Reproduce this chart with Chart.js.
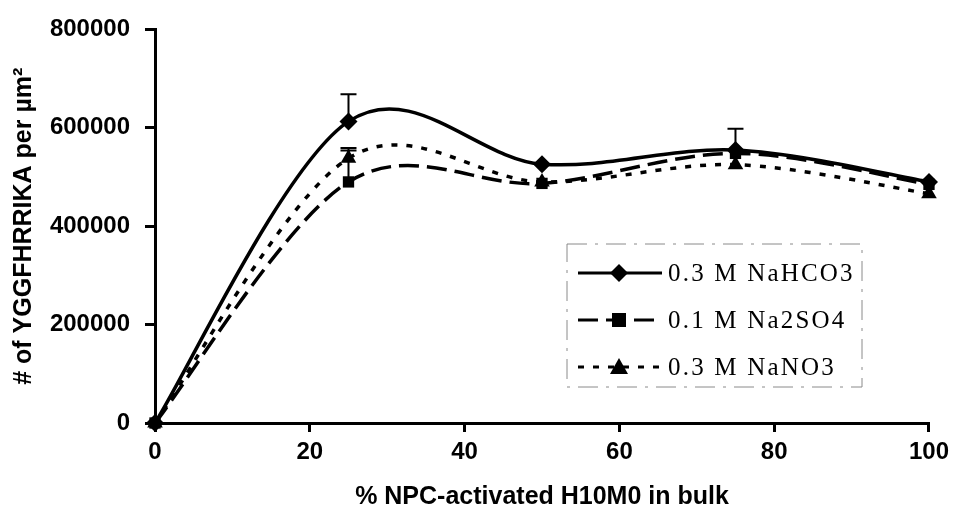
<!DOCTYPE html>
<html>
<head>
<meta charset="utf-8">
<script src="https://cdn.jsdelivr.net/npm/chart.js@4"></script>
<style>
  html, body { margin: 0; padding: 0; background: #fff; }
  #wrap { width: 955px; height: 515px; }
</style>
</head>
<body>
<div id="wrap"><canvas id="chart-h10m0" width="955" height="515"></canvas></div>
<script>
const pctBulk = [0, 25, 50, 75, 100];
const nahco3 = [0, 613000, 526000, 555000, 490000];
const na2so4 = [0, 490000, 487000, 548000, 485000];
const nano3 = [0, 538000, 490000, 525000, 466000];
// upper error bars
const nahco3Err = [0, 55000, 0, 43000, 0];
const na2so4Err = [0, 64000, 0, 0, 0];
const nano3Err = [0, 21000, 0, 0, 0];
const seriesLabels = ['0.3 M NaHCO3', '0.1 M Na2SO4', '0.3 M NaNO3'];

const TICK_FONT = { family: 'Liberation Sans, Arial, sans-serif', weight: 'bold', size: 24 };
const TITLE_FONT = { family: 'Liberation Sans, Arial, sans-serif', weight: 'bold', size: 25 };

function toPoints(ys) {
  return pctBulk.map((x, i) => ({ x, y: ys[i] }));
}

// spreadsheet-style smoothing: control points at +/- (next - prev) / 6
const smoothLines = {
  id: 'smoothLines',
  beforeDatasetDraw(chart, args) {
    const line = args.meta.dataset;
    const pts = args.meta.data;
    if (typeof line.updateControlPoints === 'function') line.updateControlPoints(chart.chartArea, 'x');
    pts.forEach((p, i) => {
      const prev = pts[i - 1] || p;
      const next = pts[i + 1] || p;
      const dx = (next.x - prev.x) / 6;
      const dy = (next.y - prev.y) / 6;
      p.cp1x = p.x - dx; p.cp1y = p.y - dy;
      p.cp2x = p.x + dx; p.cp2y = p.y + dy;
    });
    line._path = undefined;
  }
};

const errorBars = {
  id: 'errorBars',
  beforeDatasetsDraw(chart) {
    const { ctx, scales: { x, y } } = chart;
    ctx.save();
    ctx.strokeStyle = '#000';
    ctx.lineWidth = 2;
    chart.data.datasets.forEach(ds => {
      ds.errUp.forEach((e, i) => {
        if (!e) return;
        const px = x.getPixelForValue(pctBulk[i]);
        const y0 = y.getPixelForValue(ds.data[i].y);
        const y1 = y.getPixelForValue(ds.data[i].y + e);
        ctx.beginPath();
        ctx.moveTo(px, y0);
        ctx.lineTo(px, y1);
        ctx.moveTo(px - 8, y1);
        ctx.lineTo(px + 8, y1);
        ctx.stroke();
      });
    });
    ctx.restore();
  }
};

function drawMarker(ctx, style, cx, cy) {
  ctx.beginPath();
  if (style === 'rectRot') {
    ctx.moveTo(cx, cy - 9); ctx.lineTo(cx + 9, cy); ctx.lineTo(cx, cy + 9); ctx.lineTo(cx - 9, cy);
  } else if (style === 'rect') {
    ctx.rect(cx - 7, cy - 7, 14, 14);
  } else {
    ctx.moveTo(cx, cy - 9); ctx.lineTo(cx + 9, cy + 7); ctx.lineTo(cx - 9, cy + 7);
  }
  ctx.closePath();
  ctx.fill();
}

// boxed legend inside the plot, line sample with marker in the middle
const boxLegend = {
  id: 'boxLegend',
  afterDraw(chart) {
    const { ctx } = chart;
    const bx = 567, by = 244, bw = 295, bh = 143;
    ctx.save();
    ctx.fillStyle = '#fff';
    ctx.fillRect(bx, by, bw, bh);
    ctx.strokeStyle = '#8a8a8a';
    ctx.lineWidth = 1;
    ctx.setLineDash([20, 8, 3, 8]);
    ctx.strokeRect(bx, by, bw, bh);
    chart.data.datasets.forEach((ds, i) => {
      const cy = by + 29 + i * 47;
      ctx.strokeStyle = '#000';
      ctx.lineWidth = 3;
      ctx.setLineDash(ds.borderDash || []);
      ctx.beginPath();
      ctx.moveTo(578, cy);
      ctx.lineTo(662, cy);
      ctx.stroke();
      ctx.setLineDash([]);
      ctx.fillStyle = '#000';
      drawMarker(ctx, ds.pointStyle, 619, cy);
      ctx.font = '25px "Liberation Serif", "Times New Roman", serif';
      ctx.letterSpacing = '2.2px';
      ctx.textBaseline = 'middle';
      ctx.fillText(ds.label, 668, cy + 1);
    });
    ctx.restore();
  }
};

function makeSet(label, ys, err, style, dash, radius) {
  return {
    label,
    data: toPoints(ys),
    errUp: err,
    borderColor: '#000',
    backgroundColor: '#000',
    borderWidth: 3.5,
    borderDash: dash,
    pointStyle: style,
    pointRadius: radius,
    pointHoverRadius: radius,
    pointBorderWidth: 0,
    tension: 0.4,
    clip: false
  };
}

new Chart(document.getElementById('chart-h10m0').getContext('2d'), {
  type: 'line',
  data: {
    datasets: [
      makeSet(seriesLabels[0], nahco3, nahco3Err, 'rectRot', [], 9),
      makeSet(seriesLabels[1], na2so4, na2so4Err, 'rect', [20, 8], 8),
      makeSet(seriesLabels[2], nano3, nano3Err, 'triangle', [6, 9], 9)
    ]
  },
  options: {
    responsive: false,
    animation: false,
    layout: { padding: { top: 25, right: 25, left: 0, bottom: 0 } },
    plugins: { legend: { display: false }, tooltip: { enabled: false } },
    scales: {
      x: {
        type: 'linear',
        min: 0,
        max: 100,
        afterFit: s => { s.height = 92; },
        border: { color: '#000', width: 3 },
        grid: { drawOnChartArea: false, color: '#000', lineWidth: 3, tickLength: 9 },
        ticks: { stepSize: 20, color: '#000', font: TICK_FONT, padding: 6 },
        title: {
          display: true,
          text: '% NPC-activated H10M0 in bulk',
          color: '#000',
          font: TITLE_FONT,
          padding: { bottom: 3 }
        }
      },
      y: {
        min: 0,
        max: 800000,
        afterFit: s => { s.width = 155; },
        border: { color: '#000', width: 3 },
        grid: { drawOnChartArea: false, color: '#000', lineWidth: 3, tickLength: 10 },
        ticks: {
          stepSize: 200000,
          color: '#000',
          font: TICK_FONT,
          padding: 15,
          callback: v => String(v)
        },
        title: {
          display: true,
          text: '# of YGGFHRRIKA per \u00b5m\u00b2',
          color: '#000',
          font: TITLE_FONT,
          padding: { top: 9 }
        }
      }
    }
  },
  plugins: [smoothLines, errorBars, boxLegend]
});
</script>
</body>
</html>
